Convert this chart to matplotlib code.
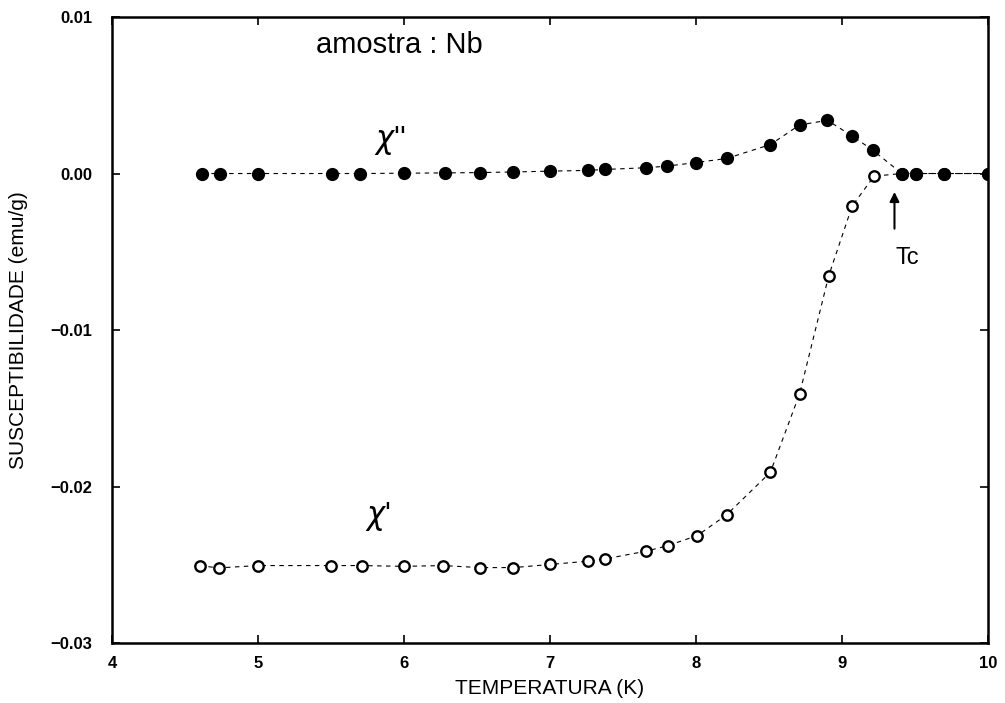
import matplotlib.pyplot as plt

# chi'' (filled circles)
t_imag = [4.62, 4.74, 5.00, 5.51, 5.70, 6.00, 6.28, 6.52, 6.75, 7.00, 7.26, 7.38,
          7.66, 7.80, 8.00, 8.21, 8.51, 8.71, 8.90, 9.07, 9.21, 9.41, 9.51, 9.70, 10.0]
chi_imag = [0.0, 0.0, 0.0, 0.0, 0.0, 0.00002, 0.00004, 0.00006, 0.0001, 0.00015, 0.0002, 0.00026,
            0.00037, 0.00047, 0.0007, 0.00096, 0.00185, 0.0031, 0.0034, 0.0024, 0.0015, 0.0, 0.0, 0.0, 0.0]

# chi' (open circles)
t_real = [4.60, 4.73, 5.00, 5.50, 5.71, 6.00, 6.27, 6.52, 6.75, 7.00, 7.26, 7.38,
          7.66, 7.81, 8.01, 8.21, 8.51, 8.71, 8.91, 9.07, 9.22, 9.41, 9.51, 9.70, 10.0]
chi_real = [-0.02505, -0.0252, -0.02505, -0.02505, -0.02505, -0.0251, -0.02505, -0.02518, -0.02518, -0.02498,
            -0.02477, -0.02462, -0.02413, -0.02377, -0.02313, -0.02181, -0.01909, -0.01408, -0.00652,
            -0.00208, -0.00017, 0.0, 0.0, 0.0, 0.0]

plt.rcParams['font.family'] = ['Liberation Sans', 'DejaVu Sans']
narrow = ['Liberation Sans Narrow', 'Liberation Sans', 'DejaVu Sans']

fig = plt.figure(figsize=(10.05, 7.03), dpi=100)
ax = fig.add_axes([0.1114, 0.0853, 0.8716, 0.8905])

ax.plot(t_real, chi_real, 'o', ls=(0, (4, 4)), color='black', lw=0.8,
        markerfacecolor='white', markeredgewidth=1.7, markersize=7.5)
ax.plot(t_imag, chi_imag, 'o', ls=(0, (4, 4)), color='black', lw=0.8,
        markersize=8.5)

ax.set_xlim(4, 10)
ax.set_ylim(-0.03, 0.01)
ax.set_xticks([4, 5, 6, 7, 8, 9, 10])
ax.set_yticks([-0.03, -0.02, -0.01, 0.0, 0.01])
ax.set_yticklabels(['\u22120.03', '\u22120.02', '\u22120.01', '0.00', '0.01'])
ax.tick_params(direction='in', top=True, right=True, length=6, width=1.2,
               labelsize=12)
ax.tick_params(axis='y', pad=14)
ax.tick_params(axis='x', pad=9)
for lab in ax.get_xticklabels() + ax.get_yticklabels():
    lab.set_fontweight('bold')
for s in ax.spines.values():
    s.set_linewidth(1.8)

ax.set_xlabel('TEMPERATURA (K)', fontsize=15, family=narrow, labelpad=6)
ax.set_ylabel('SUSCEPTIBILIDADE (emu/g)', fontsize=15, family=narrow, labelpad=16)

ax.text(5.97, 0.0082, 'amostra : Nb', fontsize=21, ha='center', va='center')
ax.text(5.9, 0.0021, "$\\chi$''", fontsize=22, ha='center', va='center')
ax.text(5.82, -0.0219, "$\\chi$'", fontsize=22, ha='center', va='center')
ax.annotate('', xy=(9.36, -0.0010), xytext=(9.36, -0.0037),
            arrowprops=dict(arrowstyle='-|>', color='black', lw=1.5, mutation_scale=14))
ax.text(9.45, -0.0054, 'Tc', fontsize=17, ha='center', va='center')

fig.savefig('out.png', dpi=100)
